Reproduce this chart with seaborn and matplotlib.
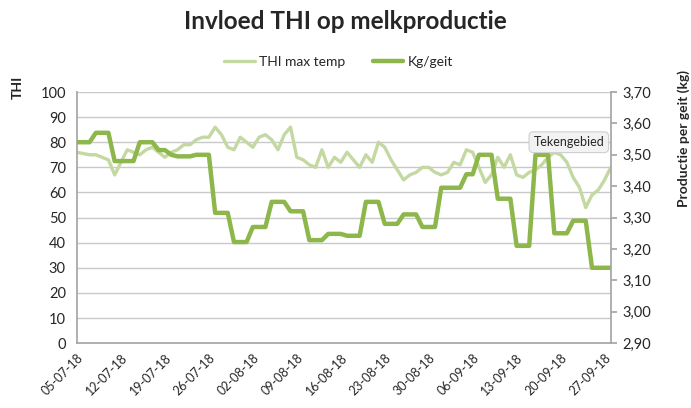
import pandas as pd
import matplotlib
matplotlib.use("Agg")
import matplotlib.pyplot as plt
import matplotlib.dates as mdates
from matplotlib.ticker import FuncFormatter, MultipleLocator
import seaborn as sns

# daily values, 05-07-2018 .. 28-09-2018
start_date = "2018-07-05"
thi_max_temp = [76, 75.5, 75, 75, 74, 73, 67, 72, 77, 76,
                75, 77, 78, 76, 74, 76, 77, 79, 79, 81,
                82, 82, 86, 83, 78, 77, 82, 80, 78, 82,
                83, 81, 77, 83, 86, 74, 73, 71, 70, 77,
                70, 74, 72, 76, 73, 70, 75, 72, 80, 78,
                73, 69, 65, 67, 68, 70, 70, 68, 67, 68,
                72, 71, 77, 76, 70, 64, 67, 74, 70, 75,
                67, 66, 68, 69, 71, 74, 76, 75, 72, 66,
                62, 54, 59, 61, 65, 70]
kg_per_geit = [3.54, 3.54, 3.54, 3.57, 3.57, 3.57, 3.48, 3.48, 3.48, 3.48,
               3.54, 3.54, 3.54, 3.515, 3.515, 3.50, 3.495, 3.495, 3.495, 3.50,
               3.50, 3.50, 3.315, 3.315, 3.315, 3.222, 3.222, 3.222, 3.27, 3.27,
               3.27, 3.35, 3.35, 3.35, 3.32, 3.32, 3.32, 3.228, 3.228, 3.228,
               3.248, 3.248, 3.248, 3.242, 3.242, 3.242, 3.35, 3.35, 3.35, 3.28,
               3.28, 3.28, 3.31, 3.31, 3.31, 3.27, 3.27, 3.27, 3.395, 3.395,
               3.395, 3.395, 3.438, 3.438, 3.50, 3.50, 3.50, 3.36, 3.36, 3.36,
               3.21, 3.21, 3.21, 3.50, 3.50, 3.50, 3.25, 3.25, 3.25, 3.29,
               3.29, 3.29, 3.14, 3.14, 3.14, 3.14]

dates = pd.date_range(start_date, periods=len(thi_max_temp), freq="D")
df = pd.DataFrame({"datum": dates, "THI max temp": thi_max_temp, "Kg/geit": kg_per_geit})

light_green = "#c4d8a2"
dark_green = "#8db64b"
grid_grey = "#c9c9c9"
text_dark = "#262626"

sns.set_theme(style="white")
plt.rcParams["font.family"] = ["Lato", "DejaVu Sans"]

fig = plt.figure(figsize=(6.91, 4.08), dpi=100)
ax = fig.add_axes([0.1114, 0.159, 0.7726, 0.6155])
ax2 = ax.twinx()

sns.lineplot(data=df, x="datum", y="THI max temp", ax=ax, color=light_green,
             linewidth=2.4, label="THI max temp", legend=False)
sns.lineplot(data=df, x="datum", y="Kg/geit", ax=ax2, color=dark_green,
             linewidth=3.2, label="Kg/geit", legend=False)

ax.set_ylim(0, 100)
ax.yaxis.set_major_locator(MultipleLocator(10))
ax2.set_ylim(2.90, 3.70)
ax2.yaxis.set_major_locator(MultipleLocator(0.10))
ax2.yaxis.set_major_formatter(FuncFormatter(lambda v, p: f"{v:.2f}".replace(".", ",")))
ax.set_xlim(dates[0], dates[-1])
ax.xaxis.set_major_locator(mdates.DayLocator(interval=7))
ax.xaxis.set_major_formatter(mdates.DateFormatter("%d-%m-%y"))

ax.grid(axis="y", color=grid_grey, linewidth=1.0)
ax.set_axisbelow(True)
for a in (ax, ax2):
    a.spines["top"].set_visible(False)
    a.spines["left"].set_color("#a6a6a6")
    a.spines["right"].set_color("#a6a6a6")
    a.spines["bottom"].set_color("#a6a6a6")
ax.spines["right"].set_visible(False)
ax2.spines["left"].set_visible(False)
ax2.spines["bottom"].set_visible(False)

ax.tick_params(axis="y", length=0, labelsize=10.5, labelcolor=text_dark, pad=8)
ax.tick_params(axis="x", length=4, color="#a6a6a6", direction="out", labelsize=9,
               labelcolor=text_dark, rotation=45, pad=2)
for lbl in ax.get_xticklabels():
    lbl.set_ha("right")
    lbl.set_rotation_mode("anchor")
ax2.tick_params(axis="y", length=4, color="#a6a6a6", direction="out", labelsize=10.5,
                labelcolor=text_dark, pad=4)

ax.set_xlabel("")
ax.set_ylabel("")
ax2.set_ylabel("")
fig.text(0.025, 0.785, "THI", rotation=90, fontsize=10, fontweight="bold",
         color=text_dark, ha="center", va="center")
fig.text(0.99, 0.66, "Productie per geit (kg)", rotation=90, fontsize=10,
         fontweight="bold", color=text_dark, ha="center", va="center")

fig.suptitle("Invloed THI op melkproductie", x=0.5, y=0.975, fontsize=17.5,
             fontweight="bold", color=text_dark)

h1, l1 = ax.get_legend_handles_labels()
h2, l2 = ax2.get_legend_handles_labels()
fig.legend(h1 + h2, l1 + l2, loc="center", bbox_to_anchor=(0.49, 0.848), ncol=2,
           frameon=False, fontsize=10, handlelength=2.2, handletextpad=0.3,
           columnspacing=2.0, labelcolor=text_dark)

ax2.text(0.855, 0.80, "Tekengebied", transform=ax2.transAxes, fontsize=9,
         color=text_dark, ha="left", va="center", zorder=10,
         bbox=dict(boxstyle="round,pad=0.35", facecolor="#f2f2f2",
                   edgecolor="#cfcfcf", linewidth=0.8))

fig.savefig("out.png", dpi=100)
